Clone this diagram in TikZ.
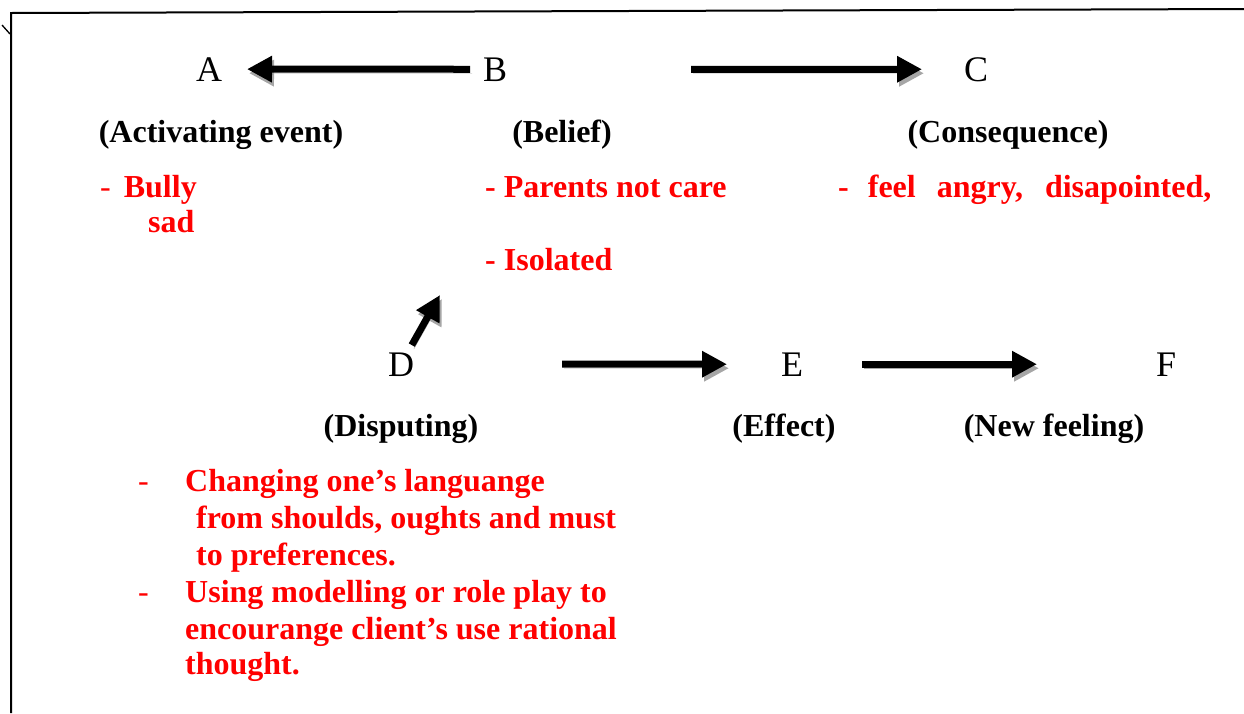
\documentclass[tikz,border=0pt]{standalone}
\usepackage{fontspec}
\setmainfont{Liberation Serif}
\usetikzlibrary{arrows.meta}

\begin{document}
\begin{tikzpicture}[x=1pt, y=-1pt,
letterNode/.style={anchor=base, inner sep=0pt, font=\fontsize{36}{40}\selectfont},
labelNode/.style={anchor=base, inner sep=0pt, font=\fontsize{32}{37}\selectfont\bfseries},
itemNode/.style={anchor=base west, inner sep=0pt, text=red, font=\fontsize{32}{37}\selectfont\bfseries},
dashNode/.style={anchor=base west, inner sep=0pt, text=red, font=\fontsize{32}{37}\selectfont},
thickArrow/.style={line width=7pt, -{Triangle[length=25pt, width=25pt]}, preaction={draw=black!35, transform canvas={shift={(2pt,-4pt)}}}}
]
\useasboundingbox (0,0) rectangle (1244,713);

% frame
\draw[line width=2pt] (11,713) -- (11,13) -- (1244,9);
\draw[line width=1.3pt] (2,25) -- (10,34);

% top row
\node[letterNode] (A) at (209,81) {A};
\node[letterNode] (B) at (495,81) {B};
\node[letterNode] (C) at (976,81) {C};

\node[labelNode] (activating) at (221,142) {(Activating event)};
\node[labelNode] (belief) at (562,142) {(Belief)};
\node[labelNode] (consequence) at (1008,142) {(Consequence)};

\node[itemNode] (bully) at (100,197) {\textmd{-}\hspace{13pt}Bully};
\node[itemNode] (sad) at (148,232) {sad};
\node[itemNode] (parents) at (485,197) {- Parents not care};
\node[itemNode] (isolated) at (485,270) {- Isolated};
\node[itemNode] (feel) at (838,197) {-\hspace{19pt}feel\hspace{21pt}angry,\hspace{22pt}disapointed,};

% bottom row
\node[letterNode] (D) at (401,376) {D};
\node[letterNode] (E) at (792,376) {E};
\node[letterNode] (F) at (1166,376) {F};

\node[labelNode] (disputing) at (401,436) {(Disputing)};
\node[labelNode] (effect) at (784,436) {(Effect)};
\node[labelNode] (newfeeling) at (1054,436) {(New feeling)};

\node[dashNode] (dashOne) at (138,491) {-};
\node[itemNode] (changeA) at (185,491) {Changing one’s languange};
\node[itemNode] (changeB) at (196,528) {from shoulds, oughts and must};
\node[itemNode] (changeC) at (196,565) {to preferences.};
\node[dashNode] (dashTwo) at (138,602) {-};
\node[itemNode] (usingA) at (185,602) {Using modelling or role play to};
\node[itemNode] (usingB) at (185,639) {encourange client’s use rational};
\node[itemNode] (usingC) at (185,674) {thought.};

\coordinate (dTip) at (440,295);

\draw[thickArrow, shorten <=25pt, shorten >=38pt] (B.center) -- (A.center);
\draw[thickArrow, shorten <=196pt, shorten >=54pt] (B.center) -- (C.center);
\draw[thickArrow, shorten <=22pt] (D.center) -- (dTip);
\draw[thickArrow, shorten <=161pt, shorten >=65pt] (D.center) -- (E.center);
\draw[thickArrow, shorten <=70pt, shorten >=129pt] (E.center) -- (F.center);

\end{tikzpicture}
\end{document}
